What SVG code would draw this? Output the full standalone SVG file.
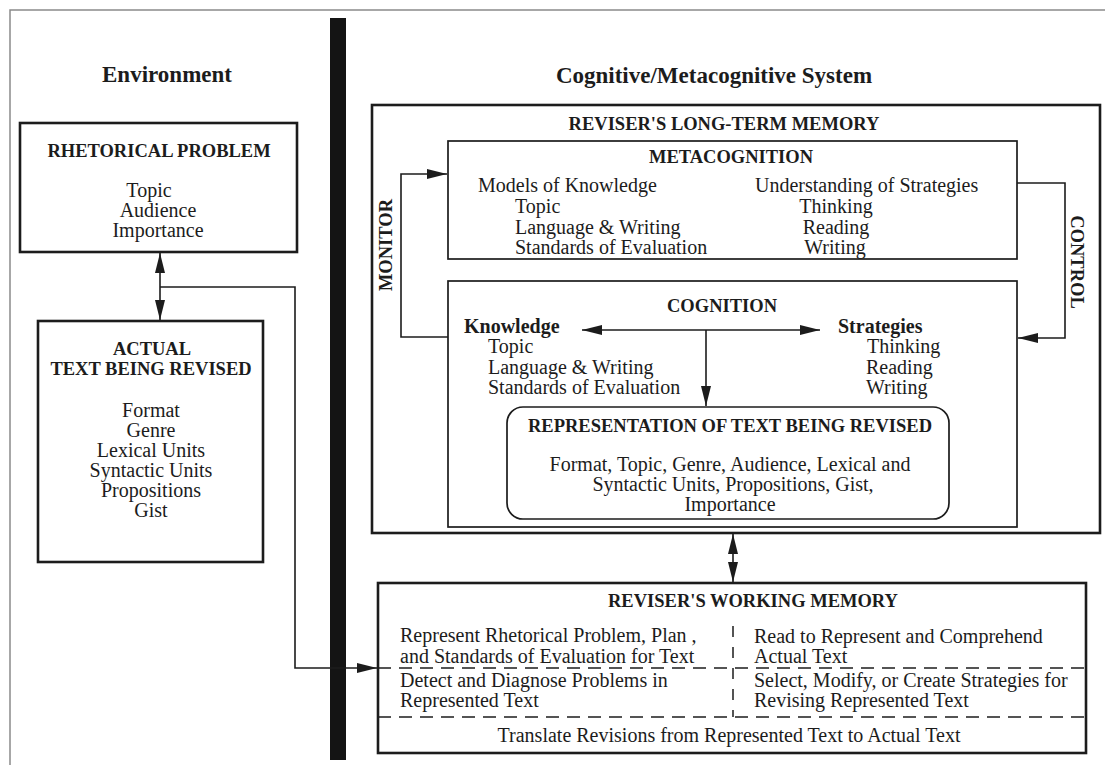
<svg xmlns="http://www.w3.org/2000/svg" width="1105" height="765" viewBox="0 0 1105 765">
<style>
  text { font-family: "Liberation Serif", "Times New Roman", serif; fill: #1c1c1c; }
  .h { font-weight: bold; font-size: 23px; }
  .t { font-weight: bold; font-size: 18.5px; }
  .b { font-size: 20px; }
  .bb { font-weight: bold; font-size: 20px; }
  .m { text-anchor: middle; }
  .box { fill: #fff; stroke: #1c1c1c; stroke-width: 2.6; }
  .ibox { fill: #fff; stroke: #1c1c1c; stroke-width: 1.7; }
  .ln { fill: none; stroke: #1c1c1c; stroke-width: 1.6; }
  .dash { fill: none; stroke: #1c1c1c; stroke-width: 1.5; stroke-dasharray: 13 8; }
  .frame { fill: none; stroke: #8a8a8a; stroke-width: 1.5; }
</style>
<defs>
  <marker id="ah" viewBox="0 0 20 10" refX="20" refY="5" markerWidth="20" markerHeight="10" markerUnits="userSpaceOnUse" orient="auto-start-reverse">
    <path d="M0,0 L20,5 L0,10 z" fill="#1c1c1c"/>
  </marker>
</defs>

<rect width="1105" height="765" fill="#fff"/>
<path class="frame" d="M1105,10 H10 V765"/>
<rect x="330" y="18" width="16" height="742" fill="#141414"/>

<text class="h m" x="167" y="82">Environment</text>
<text class="h m" x="714" y="83">Cognitive/Metacognitive System</text>

<g id="rhetorical-problem">
  <rect class="box" x="20" y="123" width="277" height="129"/>
  <text class="t m" x="159" y="157">RHETORICAL PROBLEM</text>
  <text class="b m" x="149" y="197">Topic</text>
  <text class="b m" x="158" y="217">Audience</text>
  <text class="b m" x="158" y="237">Importance</text>
</g>

<g id="actual-text">
  <rect class="box" x="38" y="321" width="225" height="241"/>
  <text class="t m" x="152" y="355">ACTUAL</text>
  <text class="t m" x="151" y="375">TEXT BEING REVISED</text>
  <text class="b m" x="151" y="417">Format</text>
  <text class="b m" x="151" y="437">Genre</text>
  <text class="b m" x="151" y="457">Lexical Units</text>
  <text class="b m" x="151" y="477">Syntactic Units</text>
  <text class="b m" x="151" y="497">Propositions</text>
  <text class="b m" x="151" y="517">Gist</text>
</g>

<g id="long-term-memory">
  <rect class="box" x="372" y="105" width="728" height="428"/>
  <text class="t m" x="724" y="130">REVISER'S LONG-TERM MEMORY</text>
  <text class="t m" x="392" y="245" transform="rotate(-90 392 245)">MONITOR</text>
  <text class="t m" x="1071" y="262" transform="rotate(90 1071 262)">CONTROL</text>
</g>

<g id="metacognition">
  <rect class="ibox" x="448" y="141" width="569" height="118"/>
  <text class="t m" x="731" y="163">METACOGNITION</text>
  <text class="b" x="478" y="192">Models of Knowledge</text>
  <text class="b" x="515" y="213">Topic</text>
  <text class="b" x="515" y="234">Language &amp; Writing</text>
  <text class="b" x="515" y="254">Standards of Evaluation</text>
  <text class="b" x="755" y="192">Understanding of Strategies</text>
  <text class="b m" x="836" y="213">Thinking</text>
  <text class="b m" x="836" y="234">Reading</text>
  <text class="b m" x="835" y="254">Writing</text>
</g>

<g id="cognition">
  <rect class="ibox" x="448" y="281" width="569" height="246"/>
  <text class="t m" x="722" y="312">COGNITION</text>
  <text class="bb" x="464" y="333">Knowledge</text>
  <text class="b" x="488" y="353">Topic</text>
  <text class="b" x="488" y="374">Language &amp; Writing</text>
  <text class="b" x="488" y="394">Standards of Evaluation</text>
  <text class="bb" x="838" y="333">Strategies</text>
  <text class="b" x="867" y="353">Thinking</text>
  <text class="b" x="866" y="374">Reading</text>
  <text class="b" x="866" y="394">Writing</text>
</g>

<g id="representation">
  <rect class="ibox" x="507" y="407" width="442" height="112" rx="16" ry="16"/>
  <text class="t m" x="730" y="432">REPRESENTATION OF TEXT BEING REVISED</text>
  <text class="b m" x="730" y="471">Format, Topic, Genre, Audience, Lexical and</text>
  <text class="b m" x="733" y="491">Syntactic Units, Propositions, Gist,</text>
  <text class="b m" x="730" y="511">Importance</text>
</g>

<g id="working-memory">
  <rect class="box" x="378" y="583" width="708" height="170"/>
  <text class="t" x="608" y="607">REVISER'S WORKING MEMORY</text>
  <path class="dash" d="M378,668 H1086"/>
  <path class="dash" d="M378,717 H1086"/>
  <path class="dash" d="M733,626 V717" style="stroke-dasharray:11 10"/>
  <text class="b" x="400" y="642">Represent Rhetorical Problem, Plan ,</text>
  <text class="b" x="400" y="663">and Standards of Evaluation for Text</text>
  <text class="b" x="400" y="687">Detect and Diagnose Problems in</text>
  <text class="b" x="400" y="707">Represented Text</text>
  <text class="b" x="754" y="643">Read to Represent and Comprehend</text>
  <text class="b" x="754" y="663">Actual Text</text>
  <text class="b" x="754" y="687">Select, Modify, or Create Strategies for</text>
  <text class="b" x="754" y="707">Revising Represented Text</text>
  <text class="b m" x="729" y="742">Translate Revisions from Represented Text to Actual Text</text>
</g>

<g id="connectors">
  <path class="ln" d="M160,253 V320" marker-start="url(#ah)" marker-end="url(#ah)"/>
  <path class="ln" d="M160,287 H295 V668 H377" marker-end="url(#ah)"/>
  <path class="ln" d="M448,337 H401 V174 H447" marker-end="url(#ah)"/>
  <path class="ln" d="M1017,183 H1065 V338 H1018" marker-end="url(#ah)"/>
  <path class="ln" d="M582,330 H820" marker-start="url(#ah)" marker-end="url(#ah)"/>
  <path class="ln" d="M706,330 V406" marker-end="url(#ah)"/>
  <path class="ln" d="M733,534 V582" marker-start="url(#ah)" marker-end="url(#ah)"/>
</g>
</svg>
